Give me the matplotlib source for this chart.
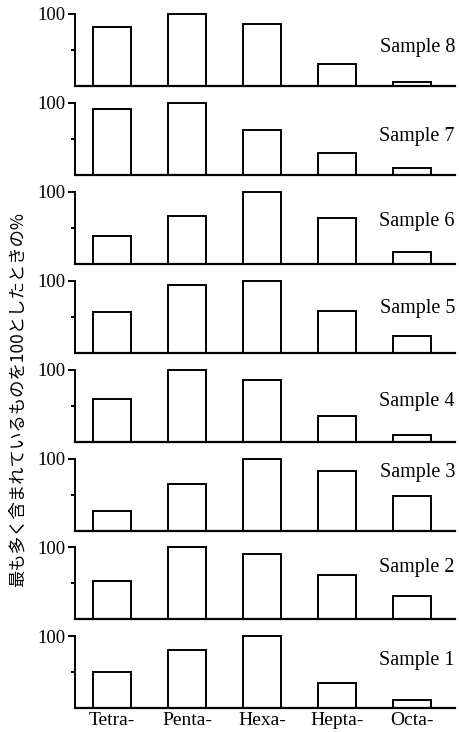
import matplotlib.pyplot as plt
import numpy as np

categories = ["Tetra-", "Penta-", "Hexa-", "Hepta-", "Octa-"]
samples = ["Sample 8", "Sample 7", "Sample 6", "Sample 5",
           "Sample 4", "Sample 3", "Sample 2", "Sample 1"]

# % of the most abundant component (top panel first)
s8 = [82, 100, 86, 31, 6]
s7 = [92, 100, 63, 30, 10]
s6 = [38, 67, 100, 64, 17]
s5 = [57, 94, 100, 58, 23]
s4 = [59, 100, 85, 35, 9]
s3 = [27, 64, 100, 82, 48]
s2 = [53, 100, 91, 61, 32]
s1 = [51, 81, 101, 35, 12]
values = [s8, s7, s6, s5, s4, s3, s2, s1]

# vertical spot of each sample name inside its panel (axes fraction)
label_y = [0.54, 0.54, 0.59, 0.61, 0.56, 0.8, 0.72, 0.66]

serif = "Liberation Serif"
W, H = 460, 732
fig = plt.figure(figsize=(W / 100, H / 100), dpi=100)

x = np.arange(len(categories))
left_px, right_px = 75, 455
top0, step, ph = 14, 88.9, 72

for i, (name, vals) in enumerate(zip(samples, values)):
    top = top0 + i * step
    ax = fig.add_axes([left_px / W, 1 - (top + ph) / H, (right_px - left_px) / W, ph / H])
    ax.bar(x, vals, width=0.51, facecolor="white", edgecolor="black", linewidth=1.4, clip_on=False)
    ax.set_xlim(-0.49, 4.57)
    ax.set_ylim(0, 100)
    for s in ["top", "right"]:
        ax.spines[s].set_visible(False)
    ax.spines["left"].set_linewidth(1.4)
    ax.spines["bottom"].set_linewidth(1.6)
    ax.set_yticks([100])
    ax.set_yticklabels(["100"], fontfamily=serif, fontsize=13.5)
    ax.set_yticks([50], minor=True)
    ax.tick_params(axis="y", which="major", length=5, width=1.4, pad=2)
    ax.tick_params(axis="y", which="minor", length=3, width=1.4)
    ax.text(1.0, label_y[i], name, transform=ax.transAxes, ha="right", va="center",
            fontfamily=serif, fontsize=14.5)
    if i == len(samples) - 1:
        ax.set_xticks(x)
        ax.set_xticklabels(categories, fontfamily=serif, fontsize=14)
        ax.tick_params(axis="x", length=0, pad=3)
    else:
        ax.set_xticks([])

fig.text(18 / W, 1 - 400 / H, "最も多く含まれているものを100としたときの%", rotation=90,
         ha="center", va="center", fontsize=12.5,
         family=["Noto Sans CJK JP", "DejaVu Sans"])

fig.savefig("out.png", dpi=100, facecolor="white")
